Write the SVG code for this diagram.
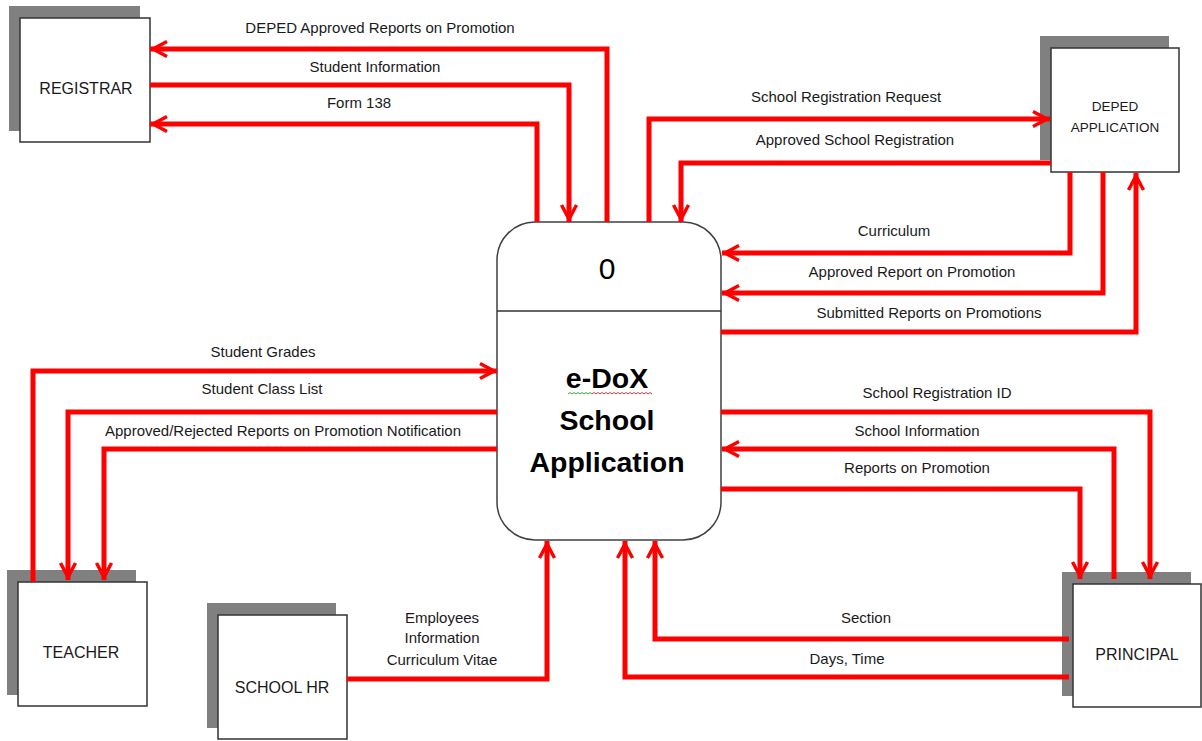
<svg xmlns="http://www.w3.org/2000/svg" width="1202" height="741" viewBox="0 0 1202 741">
<style>
.bg{fill:#ffffff}
.shadow{fill:#808080;stroke:none}
.box{fill:#ffffff;stroke:#333333;stroke-width:1.5}
.proc{fill:#ffffff;stroke:#404040;stroke-width:1.5}
.flow{fill:none;stroke:#ff0000;stroke-width:5;stroke-linejoin:miter;marker-end:url(#arr)}
.lbl{font-family:"Liberation Sans",Arial,sans-serif;font-size:15px;fill:#1a1a1a;text-anchor:middle}
.ent{font-family:"Liberation Sans",Arial,sans-serif;font-size:16px;fill:#1a1a1a;text-anchor:middle}
.ent2{font-family:"Liberation Sans",Arial,sans-serif;font-size:13.5px;fill:#1a1a1a;text-anchor:middle}
.big{font-family:"Liberation Sans",Arial,sans-serif;font-size:28.5px;font-weight:bold;fill:#000000;text-anchor:middle}
.num{font-family:"Liberation Sans",Arial,sans-serif;font-size:30px;fill:#000000;text-anchor:middle}
</style>
<defs>
<marker id="arr" markerUnits="userSpaceOnUse" viewBox="0 0 24 20" refX="20" refY="10" markerWidth="24" markerHeight="20" orient="auto">
<path d="M3,2.5 L17,10 L3,17.5" fill="none" stroke="#ff0000" stroke-width="3.5" stroke-linejoin="miter"/>
</marker>
</defs>
<rect class="bg" x="0" y="0" width="1202" height="741"/>

<g id="registrar">
<rect class="shadow" x="9" y="6" width="131" height="125"/>
<rect class="box" x="20" y="18" width="130" height="124"/>
<text class="ent" x="86" y="94">REGISTRAR</text>
</g>

<g id="deped">
<rect class="shadow" x="1040" y="36" width="129" height="124"/>
<rect class="box" x="1051" y="48" width="128" height="124"/>
<text class="ent2" x="1115" y="111">DEPED</text>
<text class="ent2" x="1115" y="132">APPLICATION</text>
</g>

<g id="teacher">
<rect class="shadow" x="7" y="570" width="129" height="125"/>
<rect class="box" x="18" y="582" width="129" height="124"/>
<text class="ent" x="81" y="658">TEACHER</text>
</g>

<g id="schoolhr">
<rect class="shadow" x="207" y="603" width="129" height="125"/>
<rect class="box" x="218" y="615" width="129" height="124"/>
<text class="ent" x="282" y="693">SCHOOL HR</text>
</g>

<g id="principal">
<rect class="shadow" x="1062" y="572" width="129" height="124"/>
<rect class="box" x="1073" y="584" width="128" height="123"/>
<text class="ent" x="1137" y="660">PRINCIPAL</text>
</g>

<g id="process">
<rect class="proc" x="497" y="222" width="224" height="318" rx="38" ry="38"/>
<line x1="497" y1="311" x2="721" y2="311" stroke="#333333" stroke-width="1.5"/>
<text class="num" x="607" y="279">0</text>
<text class="big" x="607" y="388">e-DoX</text>
<path d="M568,394 l2,-1.5 l2,1.5 l2,-1.5 l2,1.5 l2,-1.5 l2,1.5 l2,-1.5 l2,1.5 l2,-1.5 l2,1.5 l2,-1.5 l2,1.5" fill="none" stroke="#33aa33" stroke-width="1"/>
<path d="M592,394 l2,-1.5 l2,1.5 l2,-1.5 l2,1.5 l2,-1.5 l2,1.5 l2,-1.5 l2,1.5 l2,-1.5 l2,1.5 l2,-1.5 l2,1.5 l2,-1.5 l2,1.5 l2,-1.5 l2,1.5 l2,-1.5 l2,1.5 l2,-1.5 l2,1.5 l2,-1.5 l2,1.5 l2,-1.5 l2,1.5 l2,-1.5 l2,1.5 l2,-1.5 l2,1.5 l2,-1.5 l2,1.5" fill="none" stroke="#dd3333" stroke-width="1"/>
<text class="big" x="607" y="430">School</text>
<text class="big" x="607" y="472">Application</text>
</g>

<g id="connectors">
<path class="flow" d="M607,222 V49 H150"/>
<path class="flow" d="M150,85 H569 V222"/>
<path class="flow" d="M537,222 V124 H150"/>
<path class="flow" d="M649,222 V119 H1050"/>
<path class="flow" d="M1051,163 H681 V222"/>
<path class="flow" d="M1070,172 V253 H722"/>
<path class="flow" d="M1103,172 V293 H722"/>
<path class="flow" d="M721,332 H1136 V173"/>
<path class="flow" d="M33,582 V371 H497"/>
<path class="flow" d="M497,412 H68 V580"/>
<path class="flow" d="M497,449 H104 V580"/>
<path class="flow" d="M721,412 H1150 V579"/>
<path class="flow" d="M1114,579 V449 H722"/>
<path class="flow" d="M721,489 H1080 V579"/>
<path class="flow" d="M347,679 H547 V541"/>
<path class="flow" d="M1069,639 H655 V541"/>
<path class="flow" d="M1069,677 H625 V541"/>
</g>

<g id="labels">
<text class="lbl" x="380" y="33">DEPED Approved  Reports on Promotion</text>
<text class="lbl" x="375" y="72">Student Information</text>
<text class="lbl" x="359" y="108">Form 138</text>
<text class="lbl" x="846" y="102">School Registration Request</text>
<text class="lbl" x="855" y="145">Approved School Registration</text>
<text class="lbl" x="894" y="236">Curriculum</text>
<text class="lbl" x="912" y="277">Approved Report  on Promotion</text>
<text class="lbl" x="929" y="318">Submitted Reports on Promotions</text>
<text class="lbl" x="263" y="357">Student Grades</text>
<text class="lbl" x="262" y="394">Student Class List</text>
<text class="lbl" x="283" y="436">Approved/Rejected Reports on Promotion Notification</text>
<text class="lbl" x="937" y="398">School Registration ID</text>
<text class="lbl" x="917" y="436">School Information</text>
<text class="lbl" x="917" y="473">Reports on Promotion</text>
<text class="lbl" x="866" y="623">Section</text>
<text class="lbl" x="847" y="664">Days, Time</text>
<text class="lbl" x="442" y="623">Employees</text>
<text class="lbl" x="442" y="643">Information</text>
<text class="lbl" x="442" y="665">Curriculum  Vitae</text>
</g>
</svg>
